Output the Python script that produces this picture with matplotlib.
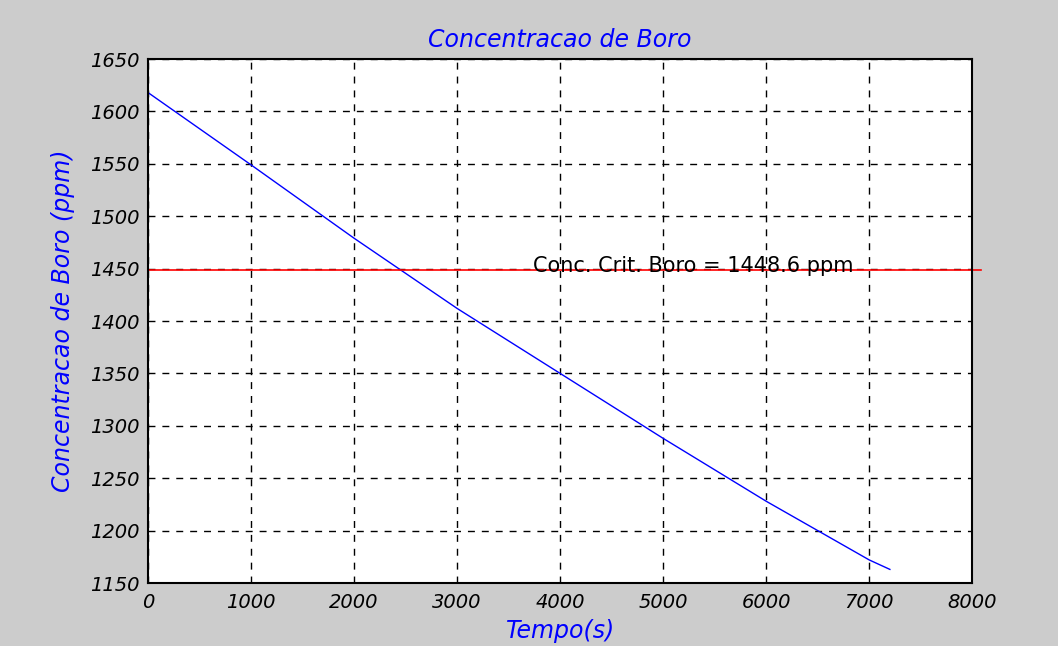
import matplotlib
matplotlib.use("Agg")
import matplotlib.pyplot as plt

# dados
tempo = [0, 1000, 2000, 3000, 4000, 5000, 6000, 7000, 7200]
boro = [1618, 1549, 1479, 1412, 1350, 1288, 1228, 1172, 1163]
conc_crit = 1448.6
xticks = [0, 1000, 2000, 3000, 4000, 5000, 6000, 7000, 8000]
yticks = [1150, 1200, 1250, 1300, 1350, 1400, 1450, 1500, 1550, 1600, 1650]

plt.rcParams['font.family'] = ['DejaVu Sans']

fig = plt.figure(figsize=(10.58, 6.46), dpi=100, facecolor="#cccccc")
ax = fig.add_axes([0.140, 0.0975, 0.779, 0.811])
ax.set_facecolor("white")

ax.plot(tempo, boro, color="blue", linewidth=1)
ax.plot([0, 8080], [conc_crit, conc_crit], color="red", linewidth=1.2, clip_on=False)
ax.text(3740, conc_crit - 1.5, "Conc. Crit. Boro = %.1f ppm" % conc_crit, fontsize=15,
        color="black", va="baseline", ha="left")

ax.set_xlim(0, 8000)
ax.set_ylim(1150, 1650)
ax.set_xticks(xticks)
ax.set_yticks(yticks)
ax.set_xticklabels([str(v) for v in xticks], fontsize=14, style="italic")
ax.set_yticklabels([str(v) for v in yticks], fontsize=14, style="italic")
ax.tick_params(axis="x", direction="in", length=0, pad=7)
ax.tick_params(axis="y", direction="in", length=0, pad=6)
ax.grid(True, color="black", linestyle=(0, (5, 5)), linewidth=1)
for s in ax.spines.values():
    s.set_linewidth(1.5)

ax.set_title("Concentracao de Boro", color="blue", fontsize=17, style="italic", pad=9)
ax.set_xlabel("Tempo(s)", color="blue", fontsize=17, style="italic", labelpad=5)
ax.set_ylabel("Concentracao de Boro (ppm)", color="blue", fontsize=17, style="italic", labelpad=11)

fig.savefig("out.png", dpi=100, facecolor=fig.get_facecolor())
